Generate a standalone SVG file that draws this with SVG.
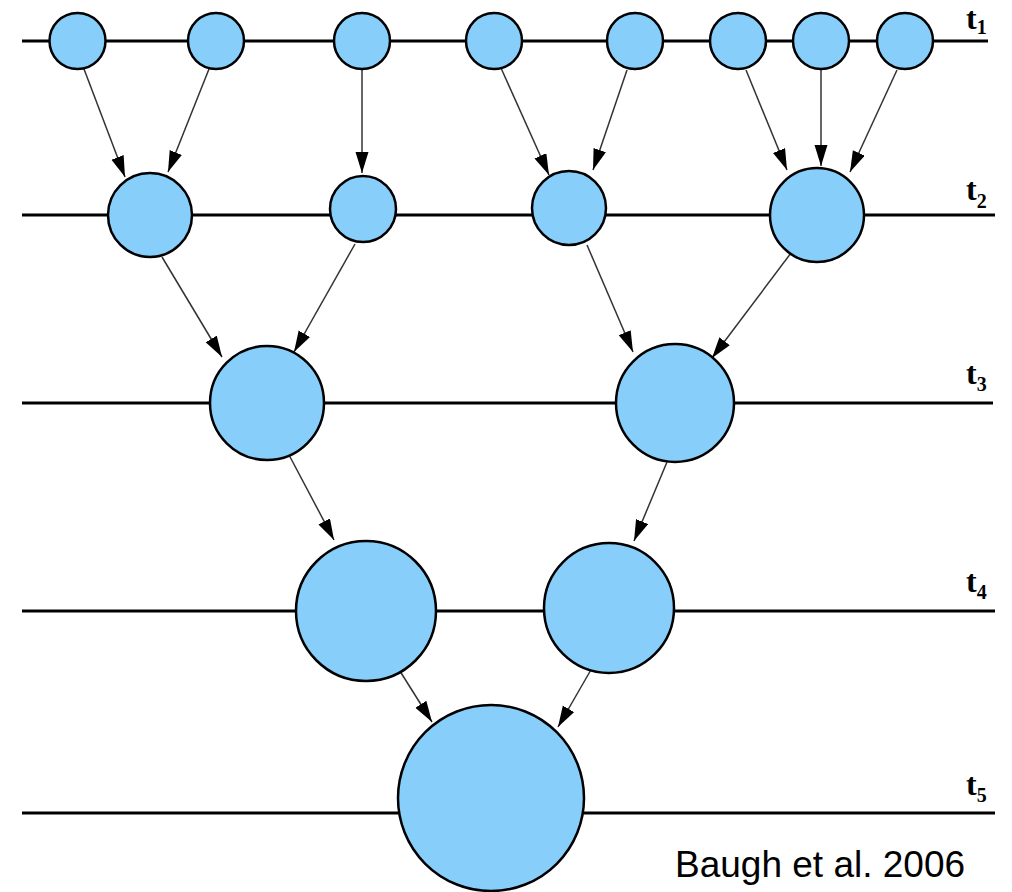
<svg xmlns="http://www.w3.org/2000/svg" width="1012" height="892" viewBox="0 0 1012 892">
<style>
.tl{stroke:#000;stroke-width:2.8;fill:none}
.n{fill:#87CEFA;stroke:#000;stroke-width:2.5}
.a{stroke:#333;stroke-width:1.5;fill:none;marker-end:url(#ah)}
.lab{font-family:"Liberation Serif",serif;font-weight:bold;font-size:32px;fill:#000}
.sub{font-size:20px}
.cite{font-family:"Liberation Sans",Arial,sans-serif;font-size:37px;fill:#000}
</style>
<defs>
<marker id="ah" markerUnits="userSpaceOnUse" markerWidth="22" markerHeight="14" refX="21" refY="6.5" orient="auto">
<path d="M0,0 L21,6.5 L0,13 z" fill="#000"/>
</marker>
</defs>
<rect width="1012" height="892" fill="#fff"/>
<g id="timelines">
<line class="tl" x1="22" y1="41" x2="988" y2="41"/>
<line class="tl" x1="22" y1="215" x2="995" y2="215"/>
<line class="tl" x1="22" y1="403" x2="993" y2="403"/>
<line class="tl" x1="22" y1="611" x2="995" y2="611"/>
<line class="tl" x1="22" y1="813" x2="995" y2="813"/>
</g>
<g id="labels">
<text class="lab" x="966" y="29">t<tspan class="sub" dy="5">1</tspan></text>
<text class="lab" x="966" y="200">t<tspan class="sub" dy="8">2</tspan></text>
<text class="lab" x="966" y="384">t<tspan class="sub" dy="7">3</tspan></text>
<text class="lab" x="966" y="592">t<tspan class="sub" dy="7">4</tspan></text>
<text class="lab" x="966" y="795">t<tspan class="sub" dy="7">5</tspan></text>
</g>
<g id="connectors">
<line class="a" x1="84" y1="69" x2="125" y2="177"/>
<line class="a" x1="209" y1="69" x2="168" y2="172"/>
<line class="a" x1="362" y1="70" x2="362" y2="173"/>
<line class="a" x1="501" y1="68" x2="549" y2="175"/>
<line class="a" x1="627" y1="70" x2="593" y2="170"/>
<line class="a" x1="746" y1="70" x2="787" y2="170"/>
<line class="a" x1="821" y1="70" x2="821" y2="166"/>
<line class="a" x1="897" y1="70" x2="850" y2="172"/>
<line class="a" x1="162" y1="257" x2="222" y2="357"/>
<line class="a" x1="355" y1="244" x2="294" y2="352"/>
<line class="a" x1="587" y1="245" x2="633" y2="352"/>
<line class="a" x1="791" y1="253" x2="712" y2="358"/>
<line class="a" x1="288" y1="453" x2="334" y2="540"/>
<line class="a" x1="667" y1="462" x2="634" y2="541"/>
<line class="a" x1="398" y1="668" x2="432" y2="722"/>
<line class="a" x1="592" y1="668" x2="558" y2="727"/>
</g>
<g id="n1a"><circle class="n" cx="77.5" cy="41" r="28"/></g>
<g id="n1b"><circle class="n" cx="216" cy="41" r="28"/></g>
<g id="n1c"><circle class="n" cx="362" cy="41" r="28"/></g>
<g id="n1d"><circle class="n" cx="494" cy="41" r="28"/></g>
<g id="n1e"><circle class="n" cx="635" cy="41" r="28"/></g>
<g id="n1f"><circle class="n" cx="738" cy="41" r="28"/></g>
<g id="n1g"><circle class="n" cx="821" cy="41" r="28"/></g>
<g id="n1h"><circle class="n" cx="905" cy="41" r="28"/></g>
<g id="n2a"><circle class="n" cx="150" cy="215" r="42"/></g>
<g id="n2b"><circle class="n" cx="363" cy="209" r="33"/></g>
<g id="n2c"><circle class="n" cx="569" cy="208" r="37"/></g>
<g id="n2d"><circle class="n" cx="817" cy="215" r="47"/></g>
<g id="n3a"><circle class="n" cx="267" cy="403" r="57"/></g>
<g id="n3b"><circle class="n" cx="675" cy="403" r="59"/></g>
<g id="n4a"><circle class="n" cx="366" cy="611" r="70"/></g>
<g id="n4b"><circle class="n" cx="609" cy="608" r="65"/></g>
<g id="n5a"><circle class="n" cx="491" cy="798" r="93"/></g>
<text class="cite" x="675" y="877">Baugh et al. 2006</text>
</svg>
